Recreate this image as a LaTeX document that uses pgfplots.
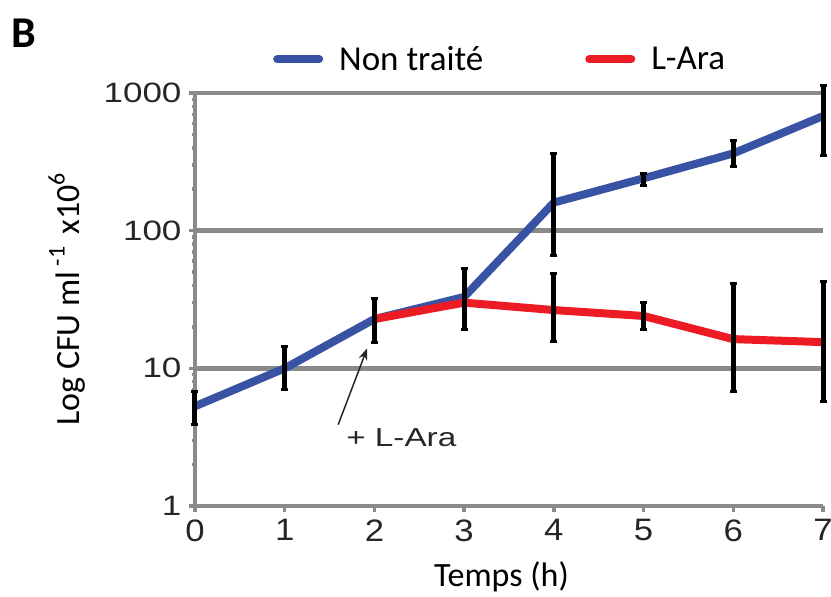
\documentclass[border=0pt]{standalone}
\usepackage{fontspec}
\setmainfont{Carlito}
\newfontfamily\arialf{Liberation Sans}
\usepackage{graphicx}
\usepackage{pgfplots}
\pgfplotsset{compat=1.18}
\usetikzlibrary{arrows.meta}
\definecolor{cblue}{HTML}{3953A4}
\definecolor{cred}{HTML}{ED1C24}
\definecolor{cgrid}{HTML}{8A8A8A}
\newcommand{\tl}[1]{\scalebox{1.25}[1]{#1}}
\newcommand{\tlx}[1]{\scalebox{1.12}[1]{#1}}
\newcommand{\sups}[1]{\raisebox{15pt}{\fontsize{24}{24}\selectfont #1}}
\begin{document}
\begin{tikzpicture}
\begin{axis}[
  name=ax,
  scale only axis,
  width=628pt, height=413pt,
  xmin=0, xmax=7, ymin=1, ymax=1000,
  ymode=log,
  clip=false,
  axis x line=bottom, axis y line=left,
  axis line style={cgrid, line width=4.5pt, -},
  x axis line style={-}, y axis line style={-},
  xtick={0,1,2,3,4,5,6,7},
  xticklabels={\tlx{0},\tlx{1},\tlx{2},\tlx{3},\tlx{4},\tlx{5},\tlx{6},\tlx{7}},
  ytick={1,10,100,1000},
  yticklabels={\tl{1},\tl{10},\tl{100},\tl{1000}},
  minor ytick={},
  tick align=outside,
  major tick length=6pt,
  tick style={cgrid, line width=3.5pt},
  ymajorgrids,
  grid style={cgrid, line width=4.5pt},
  x tick label style={font=\arialf\fontsize{31}{31}\selectfont, color=black!85, yshift=-4pt},
  y tick label style={font=\arialf\fontsize{28}{28}\selectfont, color=black!85, xshift=-4pt},
  xlabel={Temps (h)},
  ylabel={Log CFU ml\,\sups{-1}\hspace{12pt}x10\sups{6}},
  xlabel style={at={(axis description cs:0.488,-0.172)}, anchor=center, font=\fontsize{34}{34}\selectfont},
  ylabel style={at={(axis description cs:-0.204,0.5)}, anchor=center, rotate=0, font=\fontsize{34}{34}\selectfont},
  legend columns=2,
  legend style={at={(0.486,1)}, anchor=south, yshift=17pt, draw=none, fill=none,
    font=\fontsize{35}{35}\selectfont, text=black,
    /tikz/every odd column/.append style={column sep=14pt},
    /tikz/every even column/.append style={column sep=100pt}},
  legend cell align=left,
  legend image code/.code={\draw[#1, line width=8pt, line cap=round] (0pt,0pt) -- (42pt,0pt);},
]
\addplot[cblue, line width=8pt, line join=round]
  coordinates {(0,5.3) (1,10) (2,22.8) (3,33) (4,160) (5,240) (6,364) (7,680)};
\addlegendentry{Non traité}
\addplot[cred, line width=8pt, line join=round]
  coordinates {(2,22.8) (3,30) (4,26.5) (5,24) (6,16.3) (7,15.5)};
\addlegendentry{L-Ara}
% error bars
\addplot[draw=none, mark=none, forget plot,
  error bars/.cd, y dir=both, y explicit,
  error bar style={black, line width=5pt},
  error mark options={black, line width=3pt, mark size=3.5pt, rotate=90}]
  coordinates {
  (0,5.3) += (0,1.5) -= (0,1.4)
  (1,10) += (0,4.5) -= (0,3.0)
  (2,22.8) += (0,9.1) -= (0,7.3)
  (3,33) += (0,19.9) -= (0,13.7)
  (4,160) += (0,204) -= (0,94)
  (5,240) += (0,20) -= (0,27)
  (6,364) += (0,91) -= (0,72)
  (7,680) += (0,460) -= (0,328)
  };
\addplot[draw=none, mark=none, forget plot,
  error bars/.cd, y dir=both, y explicit,
  error bar style={black, line width=5pt},
  error mark options={black, line width=3pt, mark size=3.5pt, rotate=90}]
  coordinates {
  (4,26.5) += (0,22) -= (0,10.8)
  (5,24) += (0,6) -= (0,4.7)
  (6,16.3) += (0,24.7) -= (0,9.5)
  (7,15.5) += (0,27) -= (0,9.75)
  };
\draw[-{Stealth[length=12pt,width=9pt]}, line width=1.5pt, black!85] (axis cs:1.596,3.9) -- (axis cs:1.92,14.0);
\node[font=\arialf\fontsize{26}{26}\selectfont, color=black!85] at (axis cs:2.3,3.13) {\scalebox{1.28}[1]{+ L-Ara}};
\end{axis}
\node[font=\fontsize{44}{44}\selectfont\bfseries] at ([shift={(-171pt,473pt)}]ax.south west) {B};
\pgfresetboundingbox
\path ([shift={(-195pt,-91pt)}]ax.south west) rectangle ([shift={(636pt,506pt)}]ax.south west);
\end{tikzpicture}
\end{document}
